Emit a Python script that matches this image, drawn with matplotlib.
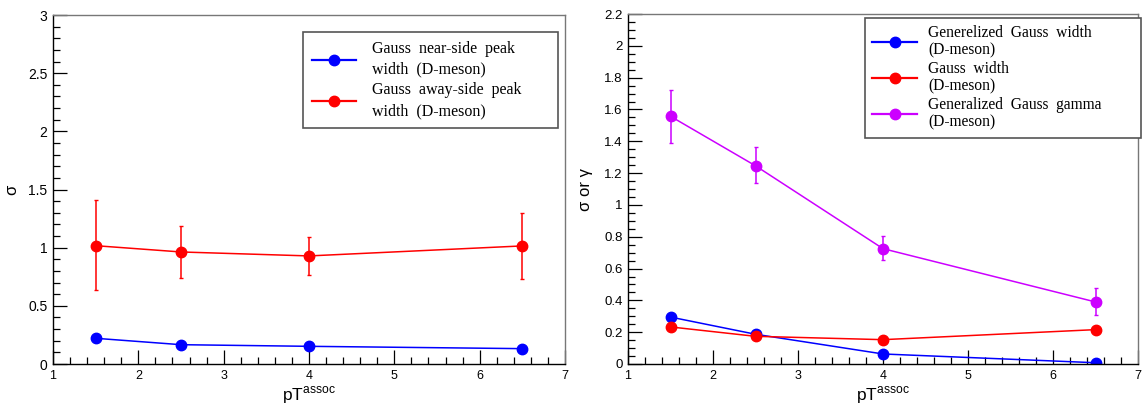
import matplotlib
matplotlib.use("Agg")
import matplotlib.pyplot as plt
from matplotlib.ticker import MultipleLocator
from matplotlib.lines import Line2D

# ---- data ----
pt = [1.5, 2.5, 4.0, 6.5]

# left panel
near_sigma = [0.221, 0.166, 0.152, 0.132]
away_sigma = [1.017, 0.963, 0.929, 1.015]
away_lo = [0.64, 0.737, 0.763, 0.731]
away_hi = [1.41, 1.19, 1.089, 1.30]

# right panel
gg_width = [0.295, 0.187, 0.063, 0.008]
g_width = [0.233, 0.174, 0.153, 0.216]
gg_gamma = [1.557, 1.246, 0.725, 0.39]
gamma_lo = [1.39, 1.136, 0.652, 0.31]
gamma_hi = [1.72, 1.362, 0.806, 0.48]

left_labels = ["Gauss  near-side  peak\nwidth  (D-meson)",
               "Gauss  away-side  peak\nwidth  (D-meson)"]
right_labels = ["Generelized  Gauss  width\n(D-meson)",
                "Gauss  width\n(D-meson)",
                "Generalized  Gauss  gamma\n(D-meson)"]

BLUE = "#0000ff"
RED = "#ff0000"
MAG = "#cc00ff"

plt.rcParams['font.family'] = ['Liberation Sans', 'DejaVu Sans']

fig = plt.figure(figsize=(11.46, 4.08), dpi=100)
axL = fig.add_axes([53/1146, 44/408, 512/1146, 349/408])
axR = fig.add_axes([628/1146, 44/408, 510/1146, 350/408])


def style(ax, ysize):
    ax.tick_params(which='both', direction='in', colors='black',
                   top=False, right=False)
    ax.tick_params(axis='x', labelsize=9)
    ax.tick_params(axis='y', labelsize=ysize)
    ax.tick_params(which='major', length=10, width=0.9, pad=4)
    ax.tick_params(which='minor', length=5, width=0.9)
    for s in ['left', 'bottom']:
        ax.spines[s].set_color('black')
        ax.spines[s].set_linewidth(1.0)
    for s in ['top', 'right']:
        ax.spines[s].set_color('#777777')
        ax.spines[s].set_linewidth(1.0)
    ax.set_xlim(1, 7)
    ax.xaxis.set_major_locator(MultipleLocator(1))
    ax.xaxis.set_minor_locator(MultipleLocator(0.2))


def yerr(vals, lo, hi):
    return [[v - l for v, l in zip(vals, lo)], [h - v for v, h in zip(vals, hi)]]


mk = dict(marker='o', markersize=7.5, linewidth=1.1, capsize=1.5, elinewidth=1.1)


def proxy(c):
    return Line2D([], [], color=c, marker='o', markersize=7.5, linewidth=1.6)


XLABEL = 'pT$^{\\mathregular{assoc}}$'

# left
style(axL, 10)
axL.set_ylim(0, 3)
axL.yaxis.set_major_locator(MultipleLocator(0.5))
axL.yaxis.set_minor_locator(MultipleLocator(0.1))
axL.set_yticks([0, 0.5, 1, 1.5, 2, 2.5, 3])
axL.set_yticklabels(['0', '0.5', '1', '1.5', '2', '2.5', '3'])
axL.plot(pt, near_sigma, color=BLUE, marker='o', markersize=7.5, linewidth=1.1)
axL.errorbar(pt, away_sigma, yerr=yerr(away_sigma, away_lo, away_hi), color=RED, **mk)
axL.set_ylabel('σ', fontsize=12, labelpad=6)
axL.set_xlabel(XLABEL, fontsize=12.5, labelpad=2)
legL = axL.legend([proxy(BLUE), proxy(RED)], left_labels, loc='upper left',
                  bbox_to_anchor=(0.488, 0.668, 0.498, 0.283), mode='expand',
                  borderaxespad=0, fancybox=False, framealpha=1,
                  edgecolor='#555555', handlelength=2.8, handletextpad=1.0,
                  labelspacing=0.3, borderpad=0.55,
                  prop={'family': 'Liberation Serif', 'size': 11.5})
legL.get_frame().set_linewidth(1.2)
for t in legL.get_texts():
    t.set_linespacing(1.4)

# right
style(axR, 9.5)
axR.set_ylim(0, 2.2)
axR.yaxis.set_major_locator(MultipleLocator(0.2))
axR.yaxis.set_minor_locator(MultipleLocator(0.05))
yt = [round(0.2 * i, 1) for i in range(12)]
axR.set_yticks(yt)
axR.set_yticklabels([('%g' % v) for v in yt])
axR.plot(pt, gg_width, color=BLUE, marker='o', markersize=7.5, linewidth=1.1)
axR.plot(pt, g_width, color=RED, marker='o', markersize=7.5, linewidth=1.1)
axR.errorbar(pt, gg_gamma, yerr=yerr(gg_gamma, gamma_lo, gamma_hi), color=MAG, **mk)
axR.set_ylabel('σ or γ', fontsize=12, labelpad=8)
axR.set_xlabel(XLABEL, fontsize=12.5, labelpad=2)
legR = axR.legend([proxy(BLUE), proxy(RED), proxy(MAG)], right_labels, loc='upper left',
                  bbox_to_anchor=(0.465, 0.669, 0.54, 0.32), mode='expand',
                  borderaxespad=0, fancybox=False, framealpha=1,
                  edgecolor='#555555', handlelength=2.9, handletextpad=0.7,
                  labelspacing=0.12, borderpad=0.45,
                  prop={'family': 'Liberation Serif', 'size': 11.2})
legR.get_frame().set_linewidth(1.2)
for t in legR.get_texts():
    t.set_linespacing(1.17)

fig.savefig('out.png', dpi=100)
